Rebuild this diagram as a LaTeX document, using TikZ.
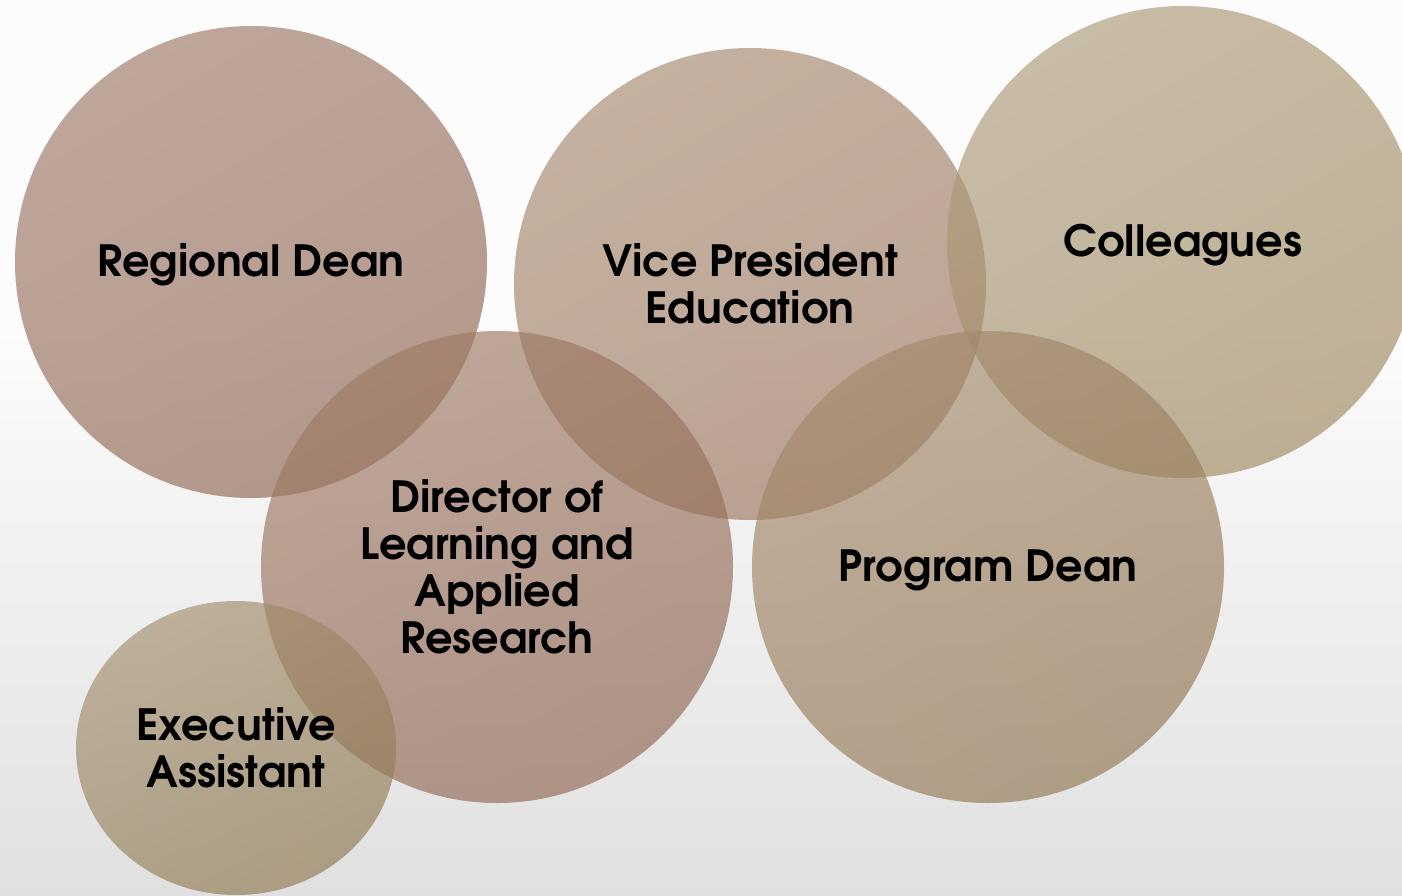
\documentclass[tikz,border=0pt]{standalone}
\usepackage{fontspec}
\setmainfont{TeX Gyre Adventor}
\usetikzlibrary{shapes.geometric}
\definecolor{bgT}{RGB}{252,252,252}
\definecolor{bgB}{RGB}{224,224,224}
\definecolor{rdA}{RGB}{158,120,103}
\definecolor{rdB}{RGB}{143,102,83}
\definecolor{vpA}{RGB}{167,137,112}
\definecolor{vpB}{RGB}{154,117,94}
\definecolor{coA}{RGB}{172,154,120}
\definecolor{coB}{RGB}{158,136,96}
\definecolor{drA}{RGB}{158,121,99}
\definecolor{drB}{RGB}{144,103,83}
\definecolor{pdA}{RGB}{162,136,105}
\definecolor{pdB}{RGB}{147,118,84}
\definecolor{eaA}{RGB}{163,142,109}
\definecolor{eaB}{RGB}{143,121,81}
\begin{document}
\begin{tikzpicture}[x=1pt,y=-1pt,
  bubble/.style 2 args={circle, minimum size=472pt, inner sep=0pt, fill opacity=0.65,
    top color=#1, bottom color=#2, shading angle=30},
  lbl/.style={font=\fontsize{43}{47}\selectfont\bfseries, align=center, text=black, inner sep=0pt},
  onelbl/.style={lbl, yshift=-3pt}]
\fill[bgT] (0,0) rectangle (1402,331);
\shade[top color=bgT, bottom color=bgB] (0,330) rectangle (1402,896);
\useasboundingbox (0,0) rectangle (1402,896);
\node[bubble={rdA}{rdB}] (rd) at (251,262) {};
\node[bubble={vpA}{vpB}] (vp) at (750,284) {};
\node[bubble={coA}{coB}] (co) at (1183,242) {};
\node[bubble={drA}{drB}] (dr) at (497,567) {};
\node[bubble={pdA}{pdB}] (pd) at (988,567) {};
\node[ellipse, minimum width=320pt, minimum height=294pt, inner sep=0pt, fill opacity=0.65,
  top color=eaA, bottom color=eaB, shading angle=30] (ea) at (236,748) {};
\node[onelbl] (rdt) at (rd) {Regional Dean};
\node[lbl] (vpt) at (vp) {Vice President\\Education};
\node[onelbl] (cot) at (co) {Colleagues};
\node[lbl] (drt) at (dr) {Director of\\Learning and\\Applied\\Research};
\node[onelbl] (pdt) at (pd) {Program Dean};
\node[lbl] (eat) at (ea) {Executive\\Assistant};
\end{tikzpicture}
\end{document}
